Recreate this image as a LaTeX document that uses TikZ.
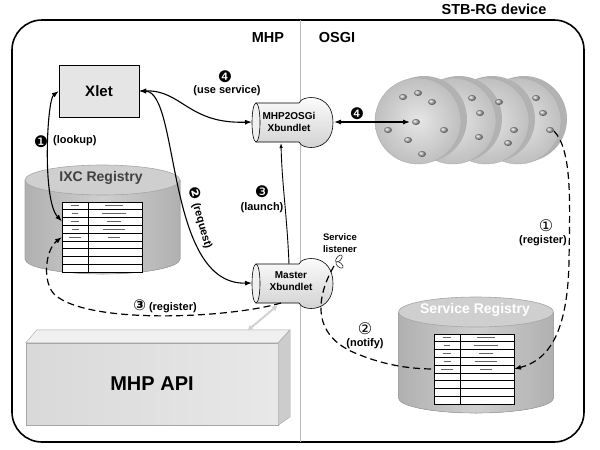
\documentclass[tikz,border=0pt]{standalone}
\usepackage{fontspec}
\setmainfont{Liberation Sans}
\newfontfamily\symfont{DejaVu Sans}
\usetikzlibrary{arrows.meta}

\tikzset{
  lbl/.style={font=\bfseries\fontsize{11}{12}\selectfont, inner sep=0pt},
  num/.style={font=\symfont\fontsize{16}{16}\selectfont, inner sep=0pt},
  title/.style={font=\bfseries\fontsize{14.5}{16}\selectfont, inner sep=0pt},
  bndl/.style={font=\bfseries\fontsize{10}{11.5}\selectfont, align=center, inner sep=0pt},
  link/.style={line width=1.1pt, -{Latex[length=7pt,width=5pt]}},
  bothway/.style={line width=1.1pt, {Latex[length=7pt,width=5pt]}-{Latex[length=7pt,width=5pt]}},
  dashlink/.style={line width=1.2pt, dash pattern=on 7pt off 4pt},
  pebble/.style={shading=ball, ball color=gray!60},
}

\begin{document}
\begin{tikzpicture}[x=1pt, y=-1pt]

  \useasboundingbox (0,0) rectangle (600,450);

  % Device frame and the MHP / OSGI split
  \draw[line width=1.6pt, rounded corners=30pt] (12,20) rectangle (584,442);
  \draw[gray!55, line width=1pt] (300,20) -- (300,442);
  \node[title] (device) at (494,9) {STB-RG device};
  \node[title] (mhp) at (268,38) {MHP};
  \node[title] (osgi) at (337,38) {OSGI};

  % Xlet
  \node[draw, fill=gray!20, minimum width=80pt, minimum height=52pt,
        font=\bfseries\fontsize{15}{16}\selectfont] (xlet) at (99,91) {Xlet};

  % Registries: cylinders
  \foreach \cx/\cy/\cb in {102.5/180/259, 476/312/398} {
    \fill[left color=gray!62, right color=gray!62, middle color=gray!38]
      ({\cx-77.5},\cy) -- ({\cx-77.5},\cb)
      arc[start angle=180, end angle=360, x radius=77.5pt, y radius=15pt]
      -- ({\cx+77.5},\cy) -- cycle;
    \draw[gray!70, line width=0.6pt] ({\cx-77.5},\cy) -- ({\cx-77.5},\cb)
      arc[start angle=180, end angle=360, x radius=77.5pt, y radius=15pt]
      -- ({\cx+77.5},\cy);
    \draw[gray!70, fill=gray!38, line width=0.6pt] (\cx,\cy) ellipse [x radius=77.5pt, y radius=15pt];
  }
  \node[font=\bfseries\fontsize{14}{15}\selectfont, text=black!75] (ixc) at (101,178) {IXC Registry};
  \node[font=\bfseries\fontsize{14}{15}\selectfont, text=white] (srvreg) at (475,310) {Service Registry};

  % Registries: tables
  \foreach \tx/\ty in {62/202, 434/334} {
    \draw[fill=white, line width=0.7pt] (\tx,\ty) rectangle ++(80,70);
    \foreach \r in {1,...,8}
      \draw[line width=0.7pt] (\tx,{\ty+\r*7.8}) -- ++(80,0);
    \draw[line width=0.7pt] ({\tx+26},\ty) -- ++(0,70);
    \foreach \r/\a/\b in {0/8/18, 1/6/24, 2/8/14, 3/7/22, 4/12/12}
      \draw[line width=1.1pt, black!60] ({\tx+13-\a/2},{\ty+3.9+\r*7.8}) -- ++(\a,0)
                                         ({\tx+52-\b/2},{\ty+3.9+\r*7.8}) -- ++(\b,0);
  }
  \coordinate (ixc-r3) at (62,221.5);
  \coordinate (ixc-r5) at (62,237);
  \coordinate (srv-r5w) at (434,369);
  \coordinate (srv-r5e) at (514,369);

  % Xbundlets
  \foreach \y in {122.5, 283.5} {
    \draw[top color=white, bottom color=gray!38, line width=0.6pt]
      (256,{\y-19.5}) -- (299,{\y-19.5}) .. controls (302,{\y-28}) and (333,{\y-30}) .. (333,\y)
      .. controls (333,{\y+30}) and (302,{\y+28}) .. (299,{\y+19.5}) -- (256,{\y+19.5}) -- cycle;
    \draw[fill=gray!12, line width=0.6pt] (256,\y) ellipse [x radius=4pt, y radius=19.5pt];
  }
  \node[bndl] (mhposgi) at (289,122) {MHP2OSGi\\Xbundlet};
  \node[bndl] (master) at (291,281) {Master\\Xbundlet};
  \coordinate (mhposgi-w) at (252,122);
  \coordinate (mhposgi-e) at (334,122);
  \coordinate (mhposgi-s) at (281,143);
  \coordinate (master-w) at (252,283);
  \coordinate (master-n) at (289,264);
  \coordinate (master-s) at (281,303);
  \coordinate (master-api) at (278,305);
  \coordinate (listener) at (334,266);

  % Service listener
  \draw[fill=white, line width=0.5pt, rotate around={-40:(336,262)}] (336,257.5) ellipse [x radius=2.2pt, y radius=4.5pt];
  \draw[fill=white, line width=0.5pt, rotate around={50:(336,262)}] (336,266.5) ellipse [x radius=2.2pt, y radius=4.5pt];
  \node[font=\bfseries\fontsize{9.5}{11.5}\selectfont, align=center] (lsn) at (340,243) {Service\\listener};

  % MHP API block
  \node[draw=gray!70, left color=gray!30, right color=gray!18, minimum width=252pt, minimum height=82pt,
        font=\bfseries\fontsize{20}{22}\selectfont] (api) at (152,384) {MHP API};
  \draw[gray!70, fill=gray!12] (api.north west) -- ++(11,-13) -- ++(253,0) -- (api.north east) -- cycle;
  \draw[gray!70, fill=gray!40] (api.north east) -- ++(12,-13) -- ++(0,87) -- (api.south east) -- cycle;
  \coordinate (api-top) at (247,331);

  % OSGi bundles
  \foreach \cx in {518,486,453,418} {
    \fill[gray!60] ({\cx+6},119) circle (43pt);
    \draw[gray!65, inner color=gray!20, outer color=gray!50] (\cx,121) circle (43pt);
  }
  \foreach \dx/\dy in {403/97, 418/93, 432/102, 416/122, 388/130, 444/130, 408/140, 422/154,
                       472/98, 480/113, 479/137, 499/102, 514/130, 508/143, 536/98, 543/113, 550/130}
    \shade[pebble] (\dx,\dy) ellipse [x radius=4pt, y radius=3pt];
  \coordinate (hub) at (410,122);
  \coordinate (lastpebble) at (554,131);

  % Connectors
  \draw[bothway] (xlet.west) .. controls (47,100) and (42,200) .. (ixc-r3);
  \draw[bothway] (xlet.east) .. controls (180,92) and (165,285) .. (master-w);
  \draw[bothway] (xlet.east) .. controls (182,90) and (188,124) .. (mhposgi-w);
  \draw[line width=0.9pt, -{Latex[length=5pt,width=3.5pt]}] (master-n) .. controls (287,215) and (282,185) .. (mhposgi-s);
  \draw[bothway] (mhposgi-e) -- (hub);
  \draw[dashlink, -{Latex[length=7pt,width=5pt]}] (master-s) .. controls (230,318) and (90,325) .. (55,295)
    .. controls (42,283) and (45,250) .. (ixc-r5);
  \draw[dashlink, -{Latex[length=7pt,width=5pt]}] (lastpebble) .. controls (572,150) and (570,200) .. (569,260)
    .. controls (568,330) and (550,360) .. (srv-r5e);
  \draw[dashlink] (listener) .. controls (320,290) and (305,335) .. (360,355)
    .. controls (385,365) and (410,369) .. (srv-r5w);
  \draw[gray!35, line width=2pt, {Latex[length=6pt,width=6pt]}-{Latex[length=6pt,width=6pt]}] (api-top) -- (master-api);

  % Labels
  \node[num] (n1) at (41,142) {❶};
  \node[lbl, anchor=west] (lookup) at (53,141) {(lookup)};
  \node[num] (n4a) at (225,77) {❹};
  \node[lbl] (usesrv) at (227,91) {(use service)};
  \node[lbl, rotate=-74] (request) at (201,218) {{\symfont\fontsize{15}{15}\selectfont ❷} (request)};
  \node[num] (n3) at (262,192) {❸};
  \node[lbl] (launch) at (262,208) {(launch)};
  \node[num] (n4b) at (357,114) {❹};
  \node[lbl] (regmhp) at (165,306) {{\symfont\fontsize{15}{15}\selectfont ③} (register)};
  \node[num] (n1o) at (546,226) {①};
  \node[lbl] (regosgi) at (543,241) {(register)};
  \node[num] (n2o) at (365,329) {②};
  \node[lbl] (notify) at (365,344) {(notify)};

\end{tikzpicture}
\end{document}
